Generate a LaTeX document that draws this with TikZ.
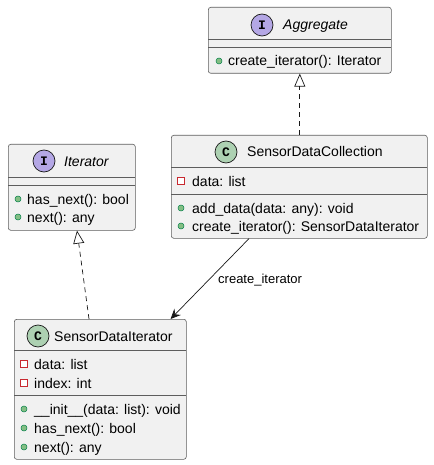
\documentclass[tikz,border=0pt]{standalone}
\usepackage{fontspec}
\setmainfont{Liberation Sans}
\newfontfamily\iconfont{Liberation Mono}
\usetikzlibrary{arrows.meta,calc}
\definecolor{boxfill}{HTML}{F1F1F1}
\definecolor{boxline}{HTML}{181818}
\definecolor{ifill}{HTML}{B4A7E5}
\definecolor{cfill}{HTML}{ADD1B2}
\definecolor{pubfill}{HTML}{84BE84}
\definecolor{publine}{HTML}{038048}
\definecolor{privline}{HTML}{C82930}
\tikzset{
  umlbox/.style={draw=boxline!70, fill=boxfill, line width=0.6pt, rounded corners=2.5pt, inner sep=0pt},
  sepline/.style={draw=boxline!70, line width=0.6pt},
  titletext/.style={anchor=base west, inner sep=0pt, font=\fontsize{14}{16}\selectfont},
  ititle/.style={titletext, font=\fontsize{14}{16}\selectfont\itshape},
  membertext/.style={anchor=base west, inner sep=0pt, font=\fontsize{14}{16}\selectfont},
  edgelabel/.style={anchor=west, inner sep=0pt, font=\fontsize{13}{15}\selectfont},
  badge/.style={circle, draw=boxline, line width=0.7pt, minimum size=22pt, inner sep=0pt, font=\fontsize{13}{13}\selectfont\iconfont\bfseries},
  pubmark/.style={circle, draw=publine, fill=pubfill, line width=0.5pt, minimum size=6pt, inner sep=0pt},
  privmark/.style={rectangle, draw=privline, fill=white, line width=0.7pt, minimum size=6.5pt, inner sep=0pt},
  realize/.style={draw=boxline, line width=0.7pt, dash pattern=on 5pt off 4pt, -{Triangle[open, length=13pt, width=11pt]}},
  navig/.style={draw=boxline, line width=0.7pt, -{Stealth[length=10pt, width=9pt, inset=3.5pt]}}
}
\begin{document}
\begin{tikzpicture}[x=1pt, y=-1pt]
\useasboundingbox (0,0) rectangle (433,465);

% ---------- Aggregate ----------
\node[umlbox, minimum width=183pt, minimum height=66pt, anchor=north west] (agg) at (208,7) {};
\draw[sepline] (208,39) -- (391,39);
\draw[sepline] (208,47) -- (391,47);
\node[badge, fill=ifill] (aggI) at (262,25) {I};
\node[ititle] (aggT) at (283,30) {Aggregate};
\node[pubmark] (aggm1) at (219,61) {};
\node[membertext] (aggt1) at (228,66) {create\_iterator(): Iterator};

% ---------- SensorDataCollection ----------
\node[umlbox, minimum width=256pt, minimum height=103pt, anchor=north west] (col) at (171,135) {};
\draw[sepline] (171,167) -- (427,167);
\draw[sepline] (171,194) -- (427,194);
\node[badge, fill=cfill] (colC) at (226,152) {C};
\node[titletext] (colT) at (247,157) {SensorDataCollection};
\node[privmark] (colm1) at (181,181) {};
\node[membertext] (colt1) at (192,186) {data: list};
\node[pubmark] (colm2) at (181,208) {};
\node[membertext] (colt2) at (192,213) {add\_data(data: any): void};
\node[pubmark] (colm3) at (181,226) {};
\node[membertext] (colt3) at (192,231) {create\_iterator(): SensorDataIterator};

% ---------- Iterator ----------
\node[umlbox, minimum width=127pt, minimum height=86pt, anchor=north west] (itr) at (8,144) {};
\draw[sepline] (8,177) -- (135,177);
\draw[sepline] (8,185) -- (135,185);
\node[badge, fill=ifill] (itrI) at (44,161) {I};
\node[ititle] (itrT) at (64,166) {Iterator};
\node[pubmark] (itrm1) at (18,199) {};
\node[membertext] (itrt1) at (27,204) {has\_next(): bool};
\node[pubmark] (itrm2) at (18,217) {};
\node[membertext] (itrt2) at (27,222) {next(): any};

% ---------- SensorDataIterator ----------
\node[umlbox, minimum width=172pt, minimum height=140pt, anchor=north west] (sdi) at (14,319) {};
\draw[sepline] (14,350) -- (186,350);
\draw[sepline] (14,395) -- (186,395);
\node[badge, fill=cfill] (sdiC) at (38,336) {C};
\node[titletext] (sdiT) at (54,341) {SensorDataIterator};
\node[privmark] (sdim1) at (24,364) {};
\node[membertext] (sdit1) at (34,369) {data: list};
\node[privmark] (sdim2) at (24,383) {};
\node[membertext] (sdit2) at (34,388) {index: int};
\node[pubmark] (sdim3) at (24,409) {};
\node[membertext] (sdit3) at (34,414) {\_\_init\_\_(data: list): void};
\node[pubmark] (sdim4) at (24,428) {};
\node[membertext] (sdit4) at (34,433) {has\_next(): bool};
\node[pubmark] (sdim5) at (24,447) {};
\node[membertext] (sdit5) at (34,452) {next(): any};

% ---------- connectors ----------
\draw[realize] (agg.south |- col.north) -- (agg.south);
\draw[realize] ($(sdi.north west)+(75,0)$) -- ($(itr.south west)+(69,0)$);
\draw[navig] ($(col.south west)+(78,0)$) -- ($(sdi.north east)+(-16,0)$);
\node[edgelabel] (lbl) at (218,280) {create\_iterator};
\end{tikzpicture}
\end{document}
